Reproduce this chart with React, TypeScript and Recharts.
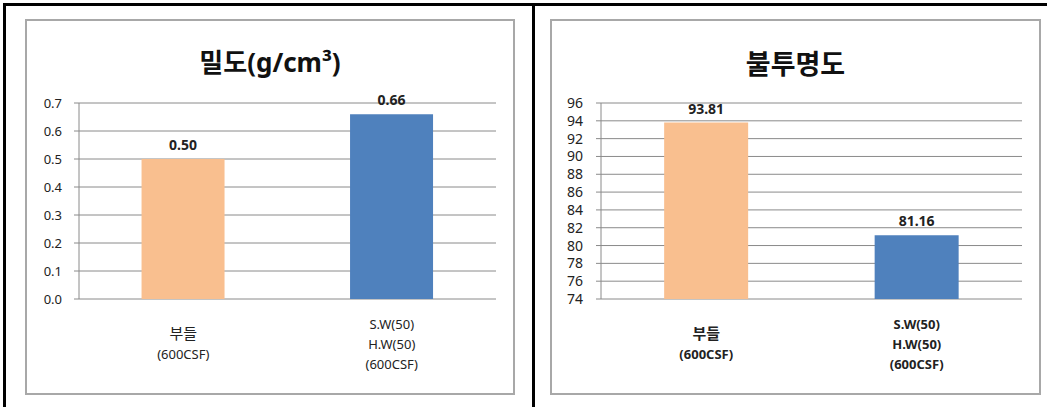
import React from "react";
import { BarChart, Bar, XAxis, YAxis, CartesianGrid, Cell, LabelList } from "recharts";

// categories shared by both panels (line breaks split the axis label)
const categories = ["부들\n(600CSF)", "S.W(50)\nH.W(50)\n(600CSF)"];

// 밀도 (g/cm³)
const densityValues = [0.5, 0.66];
const densityTicks = [0, 0.1, 0.2, 0.3, 0.4, 0.5, 0.6, 0.7];

// 불투명도
const opacityValues = [93.81, 81.16];
const opacityTicks = [74, 76, 78, 80, 82, 84, 86, 88, 90, 92, 94, 96];

const barColors = ["#F9BF8F", "#4F81BD"];
const edgeTicks = [0, 1, 2];

const FONT = "'Noto Sans', 'Noto Sans CJK KR', sans-serif";
const GRID = "#8a8a8a";
const HANGUL = /[\uac00-\ud7a3]/;

const CategoryTick = (props: any) => {
  const { x, y, payload, fontSize, bold } = props;
  const lines: string[] = String(payload.value).split("\n");
  const lineH = 20;
  const start = 46 - ((lines.length - 1) / 2) * lineH + 4;
  return (
    <text
      x={x}
      y={y}
      textAnchor="middle"
      fill="#222"
      fontSize={fontSize}
      fontWeight={bold ? "bold" : "normal"}
      fontFamily={FONT}
    >
      {lines.map((l, i) => (
        <tspan
          key={i}
          x={x}
          y={y + start + i * lineH}
          fontSize={HANGUL.test(l) ? fontSize + 2 : fontSize}
        >
          {l}
        </tspan>
      ))}
    </text>
  );
};

type PanelProps = {
  left: number;
  width: number;
  title: string;
  titleSize: number;
  titleTop: number;
  values: number[];
  ticks: number[];
  domain: [number, number];
  yWidth: number;
  tickMargin: number;
  tickFont: number;
  tickDigits: number;
  labelFont: number;
  catFont: number;
  catBold: boolean;
};

function Panel(p: PanelProps) {
  const data = categories.map((name, i) => ({ name, value: p.values[i] }));
  return (
    <div style={{ position: "absolute", left: p.left, top: 19, width: p.width, height: 376 }}>
      <div
        style={{
          position: "absolute",
          inset: 0,
          border: "2px solid #a8a8a8",
          boxSizing: "border-box",
        }}
      />
      <div
        style={{
          position: "absolute",
          left: 0,
          top: p.titleTop,
          width: p.width,
          textAlign: "center",
          fontFamily: FONT,
          fontWeight: "bold",
          fontSize: p.titleSize,
          lineHeight: "30px",
          color: "#111",
        }}
      >
        {p.title}
      </div>
      <div style={{ position: "absolute", left: 0, top: 0 }}>
        <BarChart
          width={p.width}
          height={376}
          data={data}
          margin={{ top: 84, right: 19, bottom: 0, left: 0 }}
          barCategoryGap="30%"
        >
          <CartesianGrid horizontal vertical={false} stroke={GRID} />
          <XAxis
            xAxisId="edge"
            type="number"
            domain={[0, 2]}
            ticks={edgeTicks}
            height={0}
            tickSize={5}
            stroke={GRID}
            tickFormatter={() => ""}
          />
          <XAxis
            xAxisId="cat"
            dataKey="name"
            height={96}
            axisLine={false}
            tickLine={false}
            tickSize={0}
            tickMargin={0}
            interval={0}
            tick={<CategoryTick fontSize={p.catFont} bold={p.catBold} />}
          />
          <YAxis
            width={p.yWidth}
            domain={p.domain}
            ticks={p.ticks}
            interval={0}
            stroke={GRID}
            tickSize={5}
            tickMargin={p.tickMargin}
            tick={{ fill: "#222", fontSize: p.tickFont, fontFamily: FONT }}
            tickFormatter={(v: number) => v.toFixed(p.tickDigits)}
          />
          <Bar xAxisId="cat" dataKey="value" isAnimationActive={false}>
            {data.map((d, i) => (
              <Cell key={d.name} fill={barColors[i]} />
            ))}
            <LabelList
              dataKey="value"
              position="top"
              offset={9}
              formatter={(v: any) => Number(v).toFixed(2)}
              fill="#222"
              fontSize={p.labelFont}
              fontWeight="bold"
              fontFamily={FONT}
            />
          </Bar>
        </BarChart>
      </div>
    </div>
  );
}

export default function App() {
  return (
    <div
      style={{
        position: "absolute",
        left: 0,
        top: 0,
        width: 1047,
        height: 407,
        background: "#fff",
        overflow: "hidden",
      }}
    >
      {/* outer black rules */}
      <div style={{ position: "absolute", left: 3, top: 3, width: 1044, height: 3, background: "#000" }} />
      <div style={{ position: "absolute", left: 3, top: 3, width: 3, height: 404, background: "#000" }} />
      <div style={{ position: "absolute", left: 532, top: 3, width: 3, height: 404, background: "#000" }} />

      <Panel
        left={25}
        width={490}
        title="밀도(g/cm³)"
        titleSize={26}
        titleTop={28}
        values={densityValues}
        ticks={densityTicks}
        domain={[0, 0.7]}
        yWidth={54}
        tickMargin={12}
        tickFont={13}
        tickDigits={1}
        labelFont={14}
        catFont={13}
        catBold={false}
      />
      <Panel
        left={550}
        width={491}
        title="불투명도"
        titleSize={27}
        titleTop={30}
        values={opacityValues}
        ticks={opacityTicks}
        domain={[74, 96]}
        yWidth={51}
        tickMargin={13}
        tickFont={14}
        tickDigits={0}
        labelFont={14}
        catFont={13}
        catBold={true}
      />
    </div>
  );
}
